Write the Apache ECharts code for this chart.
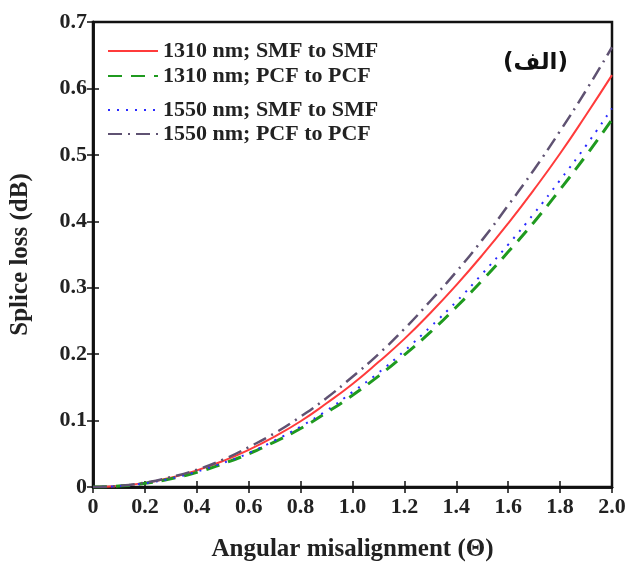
<!DOCTYPE html>
<html><head><meta charset="utf-8">
<script src="https://cdn.jsdelivr.net/npm/echarts@6/dist/echarts.min.js"></script>
<style>html,body{margin:0;padding:0;background:#fff}#c{width:633px;height:567px}</style>
</head><body><div id="c"></div>
<script>
const angles = [0,0.1,0.2,0.3,0.4,0.5,0.6,0.7,0.8,0.9,1.0,1.1,1.2,1.3,1.4,1.5,1.6,1.7,1.8,1.9,2.0];
const smf1310 = [0,0.0016,0.0062,0.014,0.025,0.039,0.056,0.076,0.099,0.126,0.155,0.188,0.223,0.262,0.304,0.349,0.397,0.448,0.502,0.560,0.620];
const pcf1310 = [0,0.0014,0.0055,0.0124,0.022,0.035,0.050,0.068,0.088,0.112,0.138,0.167,0.199,0.233,0.271,0.311,0.354,0.399,0.448,0.499,0.553];
const smf1550 = [0,0.0014,0.0057,0.0128,0.023,0.036,0.051,0.070,0.091,0.115,0.143,0.172,0.205,0.241,0.279,0.321,0.365,0.412,0.462,0.514,0.570];
const pcf1550 = [0,0.0017,0.0066,0.015,0.026,0.041,0.060,0.081,0.106,0.134,0.166,0.200,0.238,0.280,0.324,0.372,0.424,0.478,0.536,0.597,0.662];
const seriesNames = ['1310 nm; SMF to SMF','1310 nm; PCF to PCF','1550 nm; SMF to SMF','1550 nm; PCF to PCF'];
const xTitle = 'Angular misalignment (Θ)';
const yTitle = 'Splice loss (dB)';
const panelLabel = '(الف)';

const pair = arr => angles.map((a,i)=>[a,arr[i]]);
const F = 'Liberation Serif, Times New Roman, serif';
const chart = echarts.init(document.getElementById('c'));
const legendTops = [35, 60, 94, 118];
const styles = [
  {color:'#ff3b3b', width:2, type:'solid'},
  {color:'#1f9a1f', width:3, type:[14,9]},
  {color:'#2a2aff', width:2, type:[2,7]},
  {color:'#5f5272', width:2.5, type:[14,6,2,6]}
];
const data = [smf1310, pcf1310, smf1550, pcf1550];
chart.setOption({
  animation:false,
  backgroundColor:'#fff',
  grid:{left:93,right:21,top:22,bottom:75, show:true, borderColor:'#111', borderWidth:2.5, backgroundColor:'transparent'},
  legend: seriesNames.map((n,i)=>({
    show:true, data:[n], orient:'vertical', left:102, top:legendTops[i], itemWidth:50, itemHeight:14, itemGap:5,
    itemStyle:{opacity:0, borderWidth:0},
    textStyle:{fontFamily:F, fontWeight:'bold', fontSize:22, color:'#222'}
  })),
  graphic:[{type:'text', left:503, top:52, style:{text:panelLabel, font:'bold 23px "DejaVu Sans", "Noto Sans", sans-serif', fill:'#111'}}],
  xAxis:[{
    type:'value', min:0, max:2, interval:0.2,
    name:xTitle, nameLocation:'middle', nameGap:50,
    nameTextStyle:{fontFamily:F, fontWeight:'bold', fontSize:25, color:'#222'},
    axisLine:{onZero:false, lineStyle:{color:'#111', width:2.5}},
    axisTick:{inside:true, length:6, lineStyle:{color:'#111', width:1.5}},
    axisLabel:{fontFamily:F, fontWeight:'bold', fontSize:22, color:'#222', margin:9,
      formatter:v=> v===0?'0':v.toFixed(1)},
    splitLine:{show:false}
  },{
    type:'value', show:true, position:'top', min:0, max:2, interval:0.2,
    axisLine:{show:true, lineStyle:{color:'#111', width:2.5}},
    axisTick:{show:true, inside:true, length:6, lineStyle:{color:'#111', width:1.5}},
    axisLabel:{show:false}, splitLine:{show:false}
  }],
  yAxis:[{
    type:'value', min:0, max:0.7, interval:0.1,
    name:yTitle, nameLocation:'middle', nameGap:60, nameRotate:90,
    nameTextStyle:{fontFamily:F, fontWeight:'bold', fontSize:25, color:'#222'},
    axisLine:{onZero:false, lineStyle:{color:'#111', width:2.5}},
    axisTick:{inside:true, length:6, lineStyle:{color:'#111', width:1.5}},
    axisLabel:{fontFamily:F, fontWeight:'bold', fontSize:22, color:'#222', margin:6,
      formatter:v=> v===0?'0':v.toFixed(1)},
    splitLine:{show:false}
  },{
    type:'value', show:true, position:'right', min:0, max:0.7, interval:0.1,
    axisLine:{show:true, lineStyle:{color:'#111', width:2.5}},
    axisTick:{show:true, inside:true, length:6, lineStyle:{color:'#111', width:1.5}},
    axisLabel:{show:false}, splitLine:{show:false}
  }],
  series: seriesNames.map((n,i)=>({
    name:n, type:'line', data:pair(data[i]), smooth:true, showSymbol:false,
    symbol:'none', color:styles[i].color,
    lineStyle:{color:styles[i].color, width:styles[i].width, type:styles[i].type}
  }))
});
</script></body></html>
